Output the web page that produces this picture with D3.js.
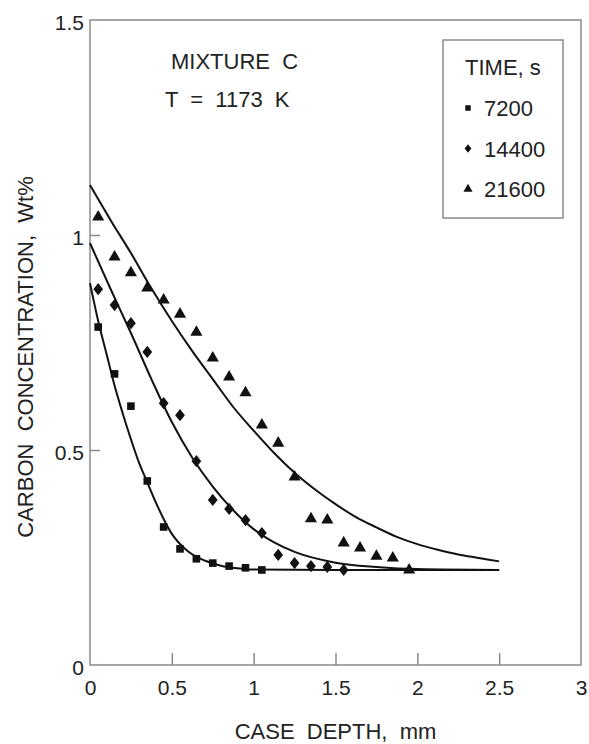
<!DOCTYPE html>
<html>
<head>
<meta charset="utf-8">
<script src="https://cdn.jsdelivr.net/npm/d3@7"></script>
<style>
  body { margin: 0; background: #fff; }
  svg text { font-family: "Liberation Sans", Arial, Helvetica, sans-serif; fill: #222; white-space: pre; }
</style>
</head>
<body>
<div id="chart-area"></div>
<script>
// SVG size
const W = 589, H = 744;
const margin = {top: 20, right: 8, bottom: 79, left: 90};
const width = W - margin.left - margin.right;
const height = H - margin.top - margin.bottom;

// measured data (case depth mm, carbon wt%)
const depth = [0.05, 0.15, 0.25, 0.35, 0.45, 0.55, 0.65, 0.75, 0.85, 0.95, 1.05,
               1.15, 1.25, 1.35, 1.45, 1.55, 1.65, 1.75, 1.85, 1.95];
const c7200  = [0.786, 0.677, 0.602, 0.428, 0.321, 0.270, 0.247, 0.237, 0.230, 0.226, 0.221];
const c14400 = [0.874, 0.837, 0.795, 0.728, 0.609, 0.581, 0.474, 0.384, 0.363, 0.337, 0.307,
                0.256, 0.237, 0.230, 0.228, 0.221];
const c21600 = [1.042, 0.949, 0.912, 0.877, 0.849, 0.816, 0.774, 0.714, 0.670, 0.633, 0.558,
                0.516, 0.437, 0.340, 0.337, 0.284, 0.272, 0.253, 0.249, 0.221];

// fitted curves
const fitX1 = [0, 0.05, 0.1, 0.15, 0.2, 0.25, 0.3, 0.35, 0.4, 0.5, 0.6, 0.7, 0.8, 0.9, 1.0, 1.5, 2.0, 2.5];
const fitY1 = [0.888, 0.80, 0.725, 0.65, 0.585, 0.525, 0.47, 0.425, 0.38, 0.305, 0.264, 0.243, 0.231, 0.225, 0.222, 0.221, 0.221, 0.221];
const fitX2 = [0, 0.125, 0.25, 0.375, 0.5, 0.625, 0.75, 0.875, 1.0, 1.125, 1.25, 1.5, 1.75, 2.0, 2.5];
const fitY2 = [0.981, 0.875, 0.772, 0.665, 0.565, 0.482, 0.415, 0.36, 0.316, 0.285, 0.263, 0.238, 0.228, 0.223, 0.221];
const fitX3 = [0, 0.125, 0.25, 0.375, 0.5, 0.625, 0.75, 0.875, 1.0, 1.125, 1.25, 1.375, 1.5, 1.625, 1.75, 1.875, 2.0, 2.125, 2.25, 2.375, 2.5];
const fitY3 = [1.116, 1.035, 0.958, 0.876, 0.800, 0.730, 0.665, 0.600, 0.545, 0.493, 0.447, 0.408, 0.374, 0.344, 0.320, 0.298, 0.281, 0.268, 0.257, 0.249, 0.241];

const xTicks = [0, 0.5, 1, 1.5, 2, 2.5, 3];
const yTicks = [0, 0.5, 1, 1.5];
const times = ["7200", "14400", "21600"];

const svg = d3.select("#chart-area").append("svg")
    .attr("width", W)
    .attr("height", H);

const g = svg.append("g")
    .attr("transform", "translate(" + margin.left + "," + margin.top + ")");

const x = d3.scaleLinear().domain([0, 3]).range([0, width]);
const y = d3.scaleLinear().domain([0, 1.5]).range([height, 0]);

const frame = "#8a8a8a";

// frame
g.append("rect")
    .attr("width", width).attr("height", height)
    .attr("fill", "none").attr("stroke", frame).attr("stroke-width", 1.5);

// axes with inward ticks
const xAxis = g.append("g")
    .attr("transform", "translate(0," + height + ")")
    .call(d3.axisBottom(x).tickValues(xTicks).tickFormat(d3.format("")).tickSize(-12).tickPadding(15));
const yAxis = g.append("g")
    .call(d3.axisLeft(y).tickValues(yTicks).tickFormat(d3.format("")).tickSize(-10).tickPadding(6));

[xAxis, yAxis].forEach(a => {
    a.select(".domain").remove();
    a.selectAll("line").attr("stroke", frame).attr("stroke-width", 1.5);
    a.selectAll("text").style("font-size", "21px").style("font-family", "Liberation Sans, Arial, sans-serif").attr("fill", "#222");
});
xAxis.selectAll(".tick line").filter(d => d === 0 || d === 3).remove();
yAxis.selectAll(".tick line").filter(d => d === 0 || d === 1.5).remove();
yAxis.selectAll("text").attr("dy", "0.45em");

// axis labels
svg.append("text")
    .attr("x", margin.left + width / 2)
    .attr("y", 739)
    .attr("text-anchor", "middle")
    .style("font-size", "22px")
    .text("CASE  DEPTH,  mm");

svg.append("text")
    .attr("transform", "translate(33,357) rotate(-90)")
    .attr("text-anchor", "middle")
    .style("font-size", "22px")
    .text("CARBON  CONCENTRATION,  Wt%");

// fitted curves
const line = d3.line()
    .x(d => x(d[0]))
    .y(d => y(d[1]))
    .curve(d3.curveMonotoneX);

[[fitX1, fitY1], [fitX2, fitY2], [fitX3, fitY3]].forEach(([xs, ys]) => {
    g.append("path")
        .datum(xs.map((v, i) => [v, ys[i]]))
        .attr("d", line)
        .attr("fill", "none")
        .attr("stroke", "#111")
        .attr("stroke-width", 2);
});

// markers
const shapes = [
    d3.symbol().type(d3.symbolSquare).size(58),
    d3.symbol().type(d3.symbolDiamond2 || d3.symbolDiamond).size(95),
    d3.symbol().type(d3.symbolTriangle).size(64)
];
const legendShapes = [
    d3.symbol().type(d3.symbolSquare).size(30),
    d3.symbol().type(d3.symbolDiamond2 || d3.symbolDiamond).size(45),
    d3.symbol().type(d3.symbolTriangle).size(36)
];

[c7200, c14400, c21600].forEach((vals, k) => {
    g.selectAll(".pt" + k)
        .data(vals)
        .enter().append("path")
        .attr("class", "pt" + k)
        .attr("transform", (d, i) => "translate(" + x(depth[i]) + "," + y(d) + ")" + (k === 1 ? " scale(0.8,1)" : ""))
        .attr("d", shapes[k]())
        .attr("fill", "#111");
});

// annotation
svg.append("text").attr("x", 171).attr("y", 69).style("font-size", "22px").text("MIXTURE  C");
svg.append("text").attr("x", 165).attr("y", 107).style("font-size", "22px").text("T  =  1173  K");

// legend
const lg = svg.append("g");
lg.append("rect")
    .attr("x", 443).attr("y", 40).attr("width", 120).attr("height", 178)
    .attr("fill", "#fff").attr("stroke", frame).attr("stroke-width", 1.5);
lg.append("text").attr("x", 465).attr("y", 75).style("font-size", "22px").text("TIME, s");
times.forEach((t, k) => {
    const yy = 116 + k * 40.5;
    lg.append("path")
        .attr("transform", "translate(468," + (yy - 8) + ")" + (k === 1 ? " scale(0.8,1)" : ""))
        .attr("d", legendShapes[k]())
        .attr("fill", "#111");
    lg.append("text").attr("x", 484).attr("y", yy).style("font-size", "22px").text(t);
});
</script>
</body>
</html>
